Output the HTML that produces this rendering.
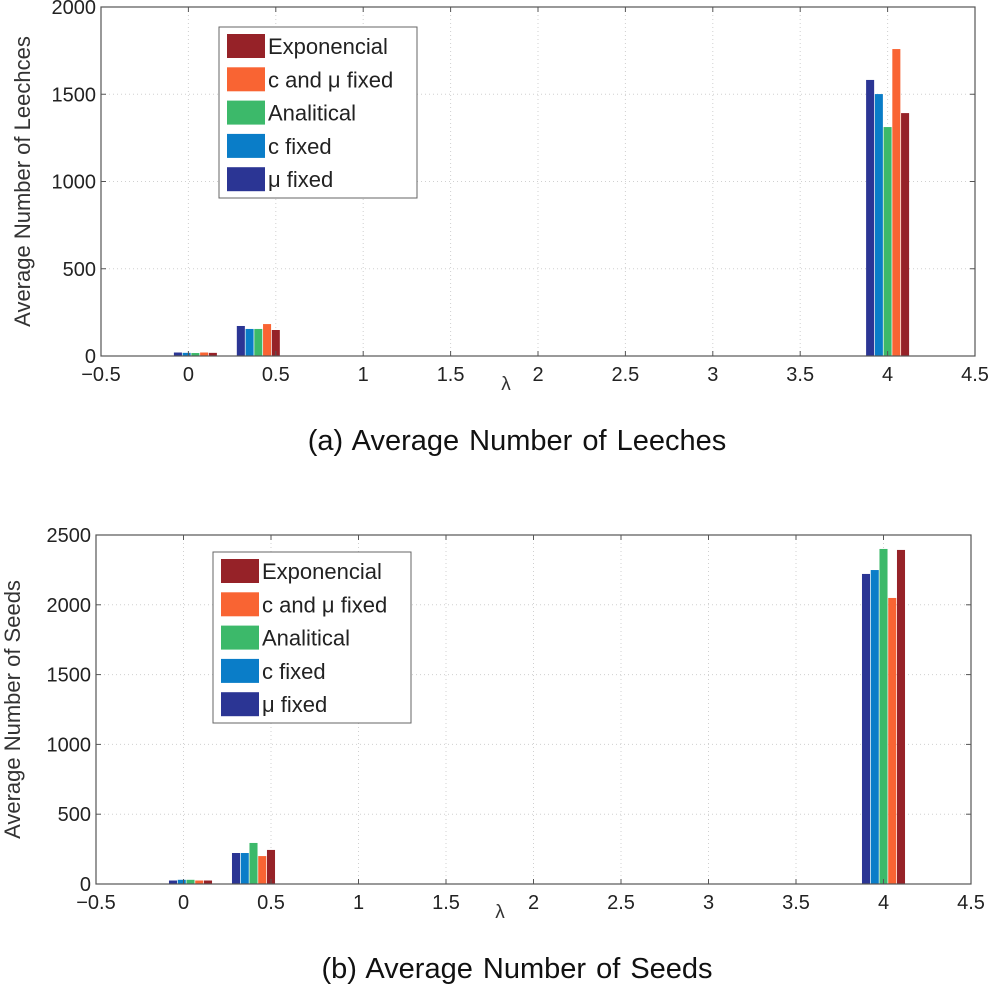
<!DOCTYPE html>
<html><head><meta charset="utf-8"><style>
body{margin:0;background:#fff;}
svg text{font-family:"Liberation Sans","DejaVu Sans",sans-serif;}
</style></head><body>
<svg id="root" width="988" height="987" xmlns="http://www.w3.org/2000/svg"></svg>
<script>
const categories=[0.04,0.4,4];
const seriesNames=["μ fixed","c fixed","Analitical","c and  μ fixed","Exponencial"];
const seriesColors=["#2b3594","#0a7dc8","#3cb96a","#f96433","#962228"];
const leechMuFixed=[20,172,1582];
const leechCFixed=[18,155,1501];
const leechAnalitical=[17,155,1312];
const leechCMuFixed=[20,183,1759];
const leechExponencial=[18,149,1392];
const seedMuFixed=[25,222,2221];
const seedCFixed=[30,222,2249];
const seedAnalitical=[30,294,2400];
const seedCMuFixed=[25,200,2049];
const seedExponencial=[25,244,2393];
const xTicks=[-0.5,0,0.5,1,1.5,2,2.5,3,3.5,4,4.5];
const yTicksA=[0,500,1000,1500,2000];
const yTicksB=[0,500,1000,1500,2000,2500];

const NS="http://www.w3.org/2000/svg";
const root=document.getElementById('root');
function mk(tag,attrs,parent){const e=document.createElementNS(NS,tag);for(const k in attrs)e.setAttribute(k,attrs[k]);(parent||root).appendChild(e);return e;}

function chart(cfg){
  const g=mk('g',{});
  
  
  const L=cfg.left,R=cfg.right,T=cfg.top,B=cfg.bottom;
  const sx=v=>L+(v+0.5)/5*(R-L);
  const sy=v=>B-v/cfg.ymax*(B-T);
  xTicks.forEach(t=>{if(t>-0.5&&t<4.5){const l=mk('line',{x1:sx(t),x2:sx(t),y1:T,y2:B,stroke:'#d0d0d0','stroke-dasharray':'1,3','stroke-width':1},g);}});
  cfg.yticks.forEach(t=>{if(t>0&&t<cfg.ymax){const l=mk('line',{x1:L,x2:R,y1:sy(t),y2:sy(t),stroke:'#d0d0d0','stroke-dasharray':'1,3','stroke-width':1},g);}});
  const bw=0.046, step=0.05;
  cfg.series.forEach((arr,si)=>{
    arr.forEach((v,ci)=>{
      const cx=categories[ci]+(si-2)*step;
      const x0=sx(cx-bw/2),x1=sx(cx+bw/2);
      const r=mk('rect',{x:x0,y:sy(v),width:x1-x0,height:sy(0)-sy(v),fill:seriesColors[si]},g);
      
      
    });
  });
  const bx=mk('rect',{x:L,y:T,width:R-L,height:B-T,fill:'none',stroke:'#555','stroke-width':1.2},g);
  
  
  xTicks.forEach(t=>{
    const x=sx(t);
    mk('line',{x1:x,x2:x,y1:B,y2:B-5,stroke:'#555'},g);
    mk('line',{x1:x,x2:x,y1:T,y2:T+5,stroke:'#555'},g);
    const tx=mk('text',{x:x,y:B+25,'font-size':20,'text-anchor':'middle',fill:'#222'},g);
    tx.textContent=t<0?'−'+Math.abs(t):String(t);
    
    
  });
  cfg.yticks.forEach(t=>{
    const y=sy(t);
    mk('line',{x1:L,x2:L+5,y1:y,y2:y,stroke:'#555'},g);
    mk('line',{x1:R,x2:R-5,y1:y,y2:y,stroke:'#555'},g);
    const tx=mk('text',{x:L-5,y:y+7,'font-size':20,'text-anchor':'end',fill:'#222'},g);
    tx.textContent=String(t);
    
    
  });
  const xl=mk('text',{x:cfg.lamX,y:B+34,'font-size':19,'text-anchor':'middle',fill:'#333'},g);
  xl.textContent='λ';
  
  
  const yl=mk('text',{x:0,y:0,'font-size':22,'text-anchor':'middle',fill:'#333',transform:'translate('+cfg.ylabX+','+((T+B)/2)+') rotate(-90)'},g);
  yl.textContent=cfg.ylabel;
  
  
  const lg=mk('g',{},g);
  
  
  mk('rect',{x:cfg.lx,y:cfg.ly,width:198,height:171,fill:'#fff',stroke:'#666','stroke-width':1},lg);
  const order=[4,3,2,1,0];
  order.forEach((si,i)=>{
    const cy=cfg.ly+19+i*33.3;
    const e=mk('g',{},lg);
    
    
    mk('rect',{x:cfg.lx+8,y:cy-12,width:38,height:24,fill:seriesColors[si]},e);
    const t=mk('text',{x:cfg.lx+49,y:cy+8,'font-size':22,fill:'#222'},e);
    t.textContent=seriesNames[si];
  });
  const cap=mk('text',{x:517,y:cfg.capY,'font-size':29,'text-anchor':'middle',fill:'#111','word-spacing':2},g);
  cap.textContent=cfg.caption;
  
  
}
chart({name:'leeches-chart',key:'a',left:101,right:975,top:7,bottom:356,ymax:2000,yticks:yTicksA,
  series:[leechMuFixed,leechCFixed,leechAnalitical,leechCMuFixed,leechExponencial],
  ylabel:'Average Number of Leechces',ylabX:30,lamX:506,lx:219,ly:27,capY:450,caption:'(a)  Average Number of Leeches'});
chart({name:'seeds-chart',key:'b',left:96,right:971,top:535,bottom:884,ymax:2500,yticks:yTicksB,
  series:[seedMuFixed,seedCFixed,seedAnalitical,seedCMuFixed,seedExponencial],
  ylabel:'Average Number of Seeds',ylabX:20,lamX:500,lx:213,ly:552,capY:978,caption:'(b)  Average Number of Seeds'});
</script>
</body></html>
